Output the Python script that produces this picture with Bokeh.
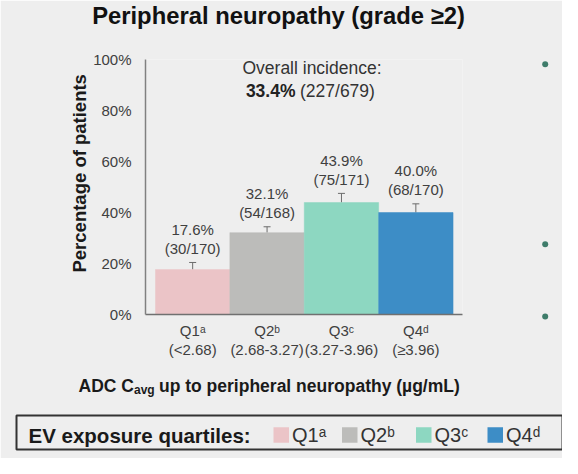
import numpy as np
from bokeh.plotting import figure
from bokeh.models import (ColumnDataSource, Range1d, FixedTicker, LabelSet,
                          Whisker, TeeHead)
from bokeh.core.properties import value
from bokeh.embed import file_html
from bokeh.resources import INLINE

# ---------------- data ----------------
categories = ["Q1ᵃ", "Q2ᵇ", "Q3ᶜ", "Q4ᵈ"]
cat_ranges = ["(<2.68)", "(2.68-3.27)", "(3.27-3.96)", "(≥3.96)"]
pct = [17.6, 32.1, 43.9, 40.0]
err_upper = [20.4, 34.4, 47.5, 43.4]
events = [30, 54, 75, 68]
totals = [170, 168, 171, 170]
colors = ["#ebc4c7", "#bcbcba", "#8dd7c1", "#3d8dc6"]
y_ticks = [0, 20, 40, 60, 80, 100]
y_tick_labels = ["0%", "20%", "40%", "60%", "80%", "100%"]
overall_pct = 33.4
overall_events = 227
overall_total = 679
title_text = "Peripheral neuropathy (grade ≥2)"
y_title = "Percentage of patients"
legend_title = "EV exposure quartiles:"

# ---------------- layout ----------------
BG = "#eeeeee"
FONT = "Liberation Sans"
TXT = "#404040"
W, H = 562, 458
OFF = 8
BL, BR, BT, BB = 145, 100, 59, 144
FW, FH = W - BL - BR, H - BT - BB
X0, X1 = -0.134, 4.127

def dx(px):
    return X0 + (px - (BL + OFF)) / FW * (X1 - X0)

def dy(py):
    return ((BT + OFF + FH) - py) / FH * 100.0

p = figure(width=W, height=H, output_backend="svg", toolbar_location=None, tools="",
           x_range=Range1d(X0, X1), y_range=Range1d(0, 100),
           min_border_left=BL, min_border_right=BR, min_border_top=BT, min_border_bottom=BB,
           background_fill_color=BG, border_fill_color=BG, outline_line_color=None)
p.title.visible = False
p.xgrid.visible = False
p.ygrid.visible = False

# axes
for ax in (p.xaxis, p.yaxis):
    ax.major_tick_out = 0
    ax.major_tick_in = 0
    ax.minor_tick_out = 0
    ax.minor_tick_in = 0
    ax.major_tick_line_color = None
    ax.minor_tick_line_color = None

p.yaxis.ticker = FixedTicker(ticks=y_ticks)
p.yaxis.major_label_overrides = dict(zip(y_ticks, y_tick_labels))
p.yaxis.major_label_standoff = 14
p.yaxis.major_label_text_font = FONT
p.yaxis.major_label_text_font_size = "15px"
p.yaxis.major_label_text_color = TXT
p.yaxis.axis_line_color = "#808080"
p.yaxis.axis_line_width = 1.5

p.xaxis.ticker = FixedTicker(ticks=[])
p.xaxis.major_label_text_color = None
p.xaxis.axis_line_color = "#707070"
p.xaxis.axis_line_width = 1.5

n = len(categories)
src = ColumnDataSource(dict(
    x=np.arange(n) + 0.5,
    top=pct,
    upper=err_upper,
    color=colors,
    pct_txt=[f"{v:.1f}%" for v in pct],
    n_txt=[f"({e}/{t})" for e, t in zip(events, totals)],
    cat=categories,
    rng=cat_ranges,
    cat_y=[dy(338.3)] * n,
    rng_y=[dy(356.7)] * n,
))

p.vbar(x="x", top="top", width=1, fill_color="color", line_color="color",
       line_width=0.5, source=src)

p.add_layout(Whisker(source=src, base="x", lower="top", upper="upper", dimension="height",
                     line_color="#6b6b6b", line_width=1,
                     upper_head=TeeHead(size=7, line_color="#6b6b6b", line_width=1),
                     lower_head=TeeHead(size=1, line_alpha=0)))

common = dict(source=src, text_align="center", text_baseline="middle",
              text_font=value(FONT), text_font_size="15px", text_color=TXT)
p.add_layout(LabelSet(x="x", y="upper", text="n_txt", y_offset=14, **common))
p.add_layout(LabelSet(x="x", y="upper", text="pct_txt", y_offset=33, **common))

# category labels below the axis (text glyphs drawn above the frame clip)
p.text(x="x", y="cat_y", text="cat", level="overlay", **common)
p.text(x="x", y="rng_y", text="rng", level="overlay", **common)

def txt(x, y, s, size, bold=False, align="left", color="#1a1a1a", angle=0.0):
    p.text(x=[x], y=[y], text=[s], angle=angle, text_align=align, text_baseline="middle",
           text_font=value(FONT), text_font_size=size,
           text_font_style="bold" if bold else "normal", text_color=color, level="overlay")

# title
txt(dx(286), dy(23), title_text, "23.8px", bold=True, align="center", color="#111111")

# overall incidence
txt(dx(319.5), dy(75.6), "Overall incidence:", "17.5px", align="center", color="#333333")
txt(dx(303), dy(98), f"{overall_pct:.1f}%", "17.5px", bold=True, align="right",
    color="#222222")
txt(dx(307.5), dy(98), f"({overall_events}/{overall_total})", "17.5px", color="#333333")

# y title
txt(dx(86.7), dy(180.8), y_title, "18.5px", bold=True, align="center", angle=np.pi / 2)

# x title with subscript
txt(dx(86), dy(393.2), "ADC C", "17.5px", bold=True)
txt(dx(141.5), dy(397.8), "avg", "12px", bold=True)
txt(dx(166.5), dy(393.2), "up to peripheral neuropathy (µg/mL)", "17.5px", bold=True)

# right-hand slide bullets
p.ellipse(x=[dx(552.7)] * 3, y=[dy(71.7), dy(251.7), dy(324)], width=6, height=6,
          width_units="screen", height_units="screen",
          fill_color="#3e7c6a", line_color=None, level="overlay")

# legend box
p.quad(left=[dx(24)], right=[dx(570)], top=[dy(423)], bottom=[dy(457)],
       fill_color=None, line_color="#333333", line_width=2, level="overlay")
txt(dx(36), dy(442.6), legend_title, "20.5px", bold=True)
legend_px = [281, 349.5, 423.5, 495]
leg = ColumnDataSource(dict(
    x=[dx(v + 7.75) for v in legend_px],
    lx=[dx(v + 18.5) for v in legend_px],
    y=[dy(442.5)] * n,
    ly=[dy(442.6)] * n,
    color=colors,
    cat=categories,
))
p.rect(x="x", y="y", width=15.5, height=15.5, width_units="screen", height_units="screen",
       fill_color="color", line_color=None, source=leg, level="overlay")
p.text(x="lx", y="ly", text="cat", source=leg, text_align="left",
       text_baseline="middle", text_font=value(FONT),
       text_font_size="20px", text_color="#333333", level="overlay")

open("out.html", "w").write(file_html(p, INLINE))
